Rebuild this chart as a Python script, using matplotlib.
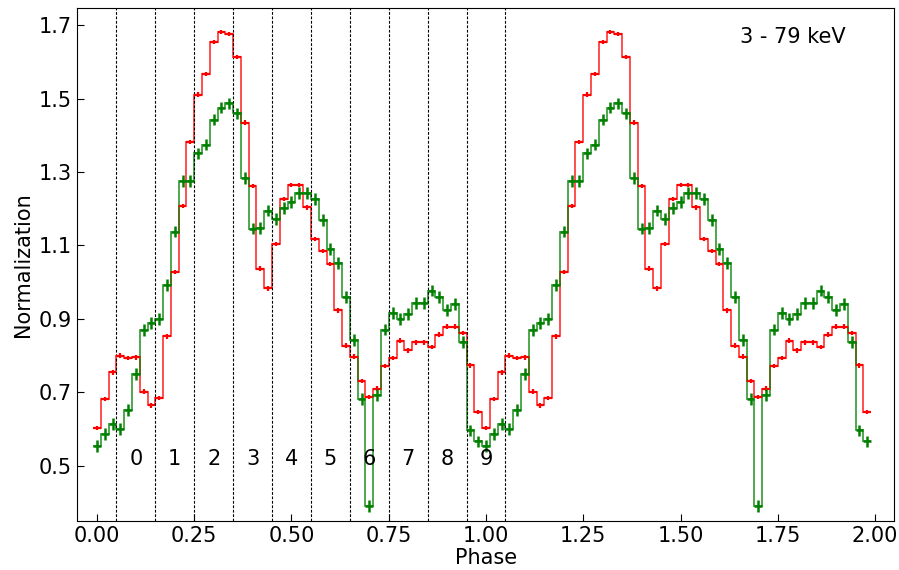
import numpy as np
import matplotlib.pyplot as plt

# pulse profile, one cycle (bin centres 0.00 .. 0.98, width 0.02)
red_prof = [0.603, 0.681, 0.754, 0.800, 0.794, 0.795, 0.702, 0.664, 0.685, 0.852,
            1.027, 1.208, 1.382, 1.511, 1.567, 1.655, 1.682, 1.676, 1.614, 1.435,
            1.262, 1.037, 0.983, 1.104, 1.226, 1.265, 1.265, 1.204, 1.117, 1.085,
            1.049, 0.923, 0.827, 0.797, 0.731, 0.687, 0.710, 0.771, 0.794, 0.841,
            0.814, 0.836, 0.836, 0.823, 0.857, 0.879, 0.879, 0.861, 0.773, 0.646]
green_prof = [0.553, 0.587, 0.614, 0.600, 0.652, 0.750, 0.870, 0.888, 0.900, 0.993,
              1.138, 1.276, 1.276, 1.351, 1.375, 1.443, 1.476, 1.487, 1.460, 1.283,
              1.146, 1.148, 1.195, 1.173, 1.202, 1.218, 1.244, 1.244, 1.227, 1.169,
              1.091, 1.052, 0.959, 0.842, 0.682, 0.390, 0.692, 0.871, 0.917, 0.900,
              0.914, 0.944, 0.944, 0.977, 0.959, 0.925, 0.941, 0.836, 0.596, 0.566]
red_err = 0.006
green_err = 0.016
bin_width = 0.02
n_cycles = 2

segment_edges = [0.05, 0.15, 0.25, 0.35, 0.45, 0.55, 0.65, 0.75, 0.85, 0.95, 1.05]
segment_labels = ["0", "1", "2", "3", "4", "5", "6", "7", "8", "9"]
energy_label = "3 - 79 keV"

plt.rcParams["font.size"] = 15

red = np.tile(red_prof, n_cycles)
green = np.tile(green_prof, n_cycles)
centres = np.arange(len(red)) * bin_width
edges = np.append(centres - bin_width / 2, centres[-1] + bin_width / 2)

fig = plt.figure(figsize=(8.99, 5.70), dpi=100)
ax = fig.add_axes([77 / 899, 1 - 520.7 / 570, (894.3 - 77) / 899, (520.7 - 7.7) / 570])

# segment boundaries
for xe in segment_edges:
    ax.axvline(xe, color="black", lw=0.8, ls=(0, (2.5, 1.5)))

# step profiles
ax.stairs(red, edges, baseline=None, color="red", lw=1.3, alpha=0.75)
ax.stairs(green, edges, baseline=None, color="green", lw=1.3, alpha=0.75)

# error crosses
ax.errorbar(centres, red, xerr=bin_width / 2, yerr=red_err, fmt="none",
            ecolor="red", elinewidth=1.6)
ax.errorbar(centres, green, xerr=bin_width / 2, yerr=green_err, fmt="none",
            ecolor="green", elinewidth=1.8)

# segment numbers
for i, lab in enumerate(segment_labels):
    xc = (segment_edges[i] + segment_edges[i + 1]) / 2
    ax.text(xc, 0.517, lab, ha="center", va="center", fontsize=15)

ax.text(0.876, 0.943, energy_label, transform=ax.transAxes,
        ha="center", va="center", fontsize=15)

ax.set_xlim(-0.0514, 2.0496)
ax.set_ylim(0.350, 1.748)
ax.set_xticks([0.0, 0.25, 0.5, 0.75, 1.0, 1.25, 1.5, 1.75, 2.0])
ax.set_yticks([0.5, 0.7, 0.9, 1.1, 1.3, 1.5, 1.7])
ax.tick_params(direction="in", length=5, labelsize=15)
ax.set_xlabel("Phase", fontsize=15, labelpad=2)
ax.set_ylabel("Normalization", fontsize=15)

fig.savefig("out.png", dpi=100)
